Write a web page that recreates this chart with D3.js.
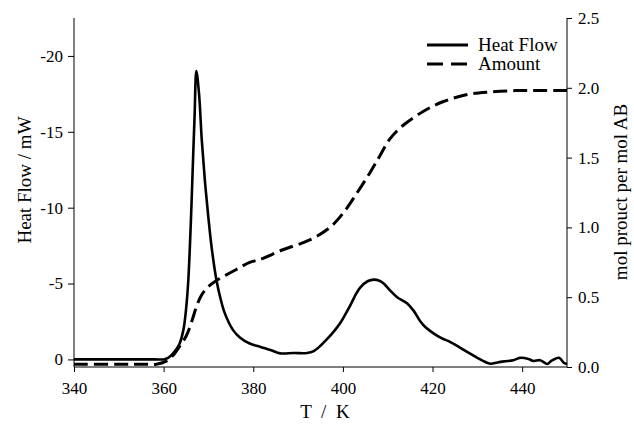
<!DOCTYPE html>
<html>
<head>
<meta charset="utf-8">
<script src="https://cdn.jsdelivr.net/npm/d3@7"></script>
<style>
  body { margin: 0; background: #fff; }
  text { font-family: "Liberation Serif", "DejaVu Serif", serif; fill: #000; }
</style>
</head>
<body>
<div id="chart"></div>
<script>
// heat flow trace (mW), temperature in K
var heatT = [340, 350, 358, 360, 361, 362.1, 363.5, 364.4, 365.0, 365.5, 366.0, 366.4, 366.9, 367.3, 367.9, 368.5, 369.2, 370.0, 370.7, 371.8, 372.7, 373.7, 375.5, 377.0, 379.2, 381.5, 384.0, 386.0, 389.0, 392.0, 393.5, 395.0, 396.5, 398.0, 399.4, 400.5, 401.7, 403.0, 403.9, 405.5, 406.9, 408.0, 409.1, 410.5, 412.1, 414.3, 415.8, 417.3, 418.5, 420.3, 422.0, 424.0, 426.0, 427.8, 430.0, 432.0, 433.0, 434.5, 436.0, 438.0, 439.5, 441.2, 442.5, 444.0, 445.6, 446.5, 448.3, 449.2, 450];
var heatV = [0, 0, 0, 0, -0.1, -0.4, -1.0, -1.93, -3.3, -5.2, -8.5, -11.8, -16, -19.0, -17.5, -14.5, -11.8, -9.3, -7.4, -5.2, -4.0, -3.0, -1.93, -1.45, -1.05, -0.83, -0.6, -0.4, -0.42, -0.42, -0.55, -0.9, -1.35, -1.85, -2.4, -2.95, -3.6, -4.35, -4.75, -5.15, -5.26, -5.2, -5.0, -4.55, -4.1, -3.7, -3.2, -2.5, -2.1, -1.7, -1.4, -1.14, -0.8, -0.48, -0.1, 0.2, 0.29, 0.2, 0.13, 0.05, -0.1, -0.05, 0.1, 0.05, 0.3, 0.1, -0.1, 0.2, 0.3];

// amount of product (mol per mol AB)
var amtT = [340, 355, 358.4, 360.5, 362, 363.6, 365.0, 365.9, 367.3, 368.2, 369.2, 370.5, 371.8, 374, 376.3, 379.2, 381.5, 386.6, 392.6, 397.1, 400, 403, 406, 408.2, 410.4, 413.4, 417.9, 422.3, 427.5, 432.7, 438.6, 444, 450];
var amtV = [0.02, 0.02, 0.02, 0.04, 0.08, 0.15, 0.22, 0.29, 0.43, 0.5, 0.55, 0.59, 0.62, 0.66, 0.70, 0.75, 0.77, 0.84, 0.91, 1.0, 1.1, 1.24, 1.39, 1.51, 1.63, 1.73, 1.83, 1.9, 1.95, 1.97, 1.98, 1.98, 1.98];

var xTicks = [340, 360, 380, 400, 420, 440];
var leftTicks = [0, -5, -10, -15, -20];
var rightTicks = [0, 0.5, 1.0, 1.5, 2.0, 2.5];
var legendNames = ["Heat Flow", "Amount"];

var width = 634, height = 427;
var pL = 74, pR = 567, pT = 18, pB = 367;

var svg = d3.select("#chart").append("svg")
  .attr("width", width)
  .attr("height", height);

var x = d3.scaleLinear().domain([340, 450]).range([pL, pR]);
var yL = d3.scaleLinear().domain([0.5, -22.5]).range([pB, pT]);
var yR = d3.scaleLinear().domain([0, 2.5]).range([pB, pT]);

var heat = heatT.map(function(t, i){ return [t, heatV[i]]; });
var amt = amtT.map(function(t, i){ return [t, amtV[i]]; });

// axes (plain hyphen for negatives, like the original)
var gx = svg.append("g").attr("transform", "translate(0," + pB + ")")
  .call(d3.axisBottom(x).tickValues(xTicks).tickSize(5).tickPadding(10).tickFormat(function(d){ return String(d); }));
var gl = svg.append("g").attr("transform", "translate(" + pL + ",0)")
  .call(d3.axisLeft(yL).tickValues(leftTicks).tickSize(6).tickPadding(5).tickFormat(function(d){ return String(d); }));
var gr = svg.append("g").attr("transform", "translate(" + pR + ",0)")
  .call(d3.axisRight(yR).tickValues(rightTicks).tickSize(5).tickPadding(6).tickFormat(function(d){ return d.toFixed(1); }));

[gx, gl, gr].forEach(function(g){
  g.attr("font-family", null).attr("font-size", null);
  g.select(".domain").attr("stroke", "#000").attr("stroke-width", 1);
  g.selectAll(".tick line").attr("stroke", "#000");
  g.selectAll("text")
    .style("font-family", "'Liberation Serif', serif")
    .style("font-size", "17px")
    .attr("fill", "#000");
});
// no outer tick stubs on domain paths
gx.select(".domain").attr("d", "M" + pL + ",0H" + pR);
gl.select(".domain").attr("d", "M0," + pT + "V" + pB);
gr.select(".domain").attr("d", "M0," + pT + "V" + pB);

// curves
var lineHeat = d3.line()
  .x(function(d){ return x(d[0]); })
  .y(function(d){ return yL(d[1]); })
  .curve(d3.curveCatmullRom.alpha(0.5));
var lineAmt = d3.line()
  .x(function(d){ return x(d[0]); })
  .y(function(d){ return yR(d[1]); })
  .curve(d3.curveCatmullRom.alpha(0.5));

svg.append("path").datum(amt)
  .attr("d", lineAmt)
  .attr("fill", "none")
  .attr("stroke", "#000")
  .attr("stroke-width", 3)
  .attr("stroke-dasharray", "14,6");

svg.append("path").datum(heat)
  .attr("d", lineHeat)
  .attr("fill", "none")
  .attr("stroke", "#000")
  .attr("stroke-width", 2.6)
  .attr("stroke-linejoin", "round");

// axis titles
svg.append("text")
  .attr("transform", "translate(31,180) rotate(-90)")
  .attr("text-anchor", "middle")
  .style("font-size", "19px")
  .text("Heat Flow / mW");

svg.append("text")
  .attr("transform", "translate(627,192) rotate(-90)")
  .attr("text-anchor", "middle")
  .style("font-size", "19px")
  .text("mol prouct per mol AB");

svg.append("text")
  .attr("x", 325)
  .attr("y", 418)
  .attr("text-anchor", "middle")
  .style("font-size", "19px")
  .style("white-space", "pre")
  .text("T  /  K");

// legend
var leg = svg.append("g").attr("transform", "translate(427,45)");
leg.selectAll("line").data(legendNames).enter().append("line")
  .attr("x1", 0).attr("x2", 41)
  .attr("y1", function(d, i){ return i * 19; })
  .attr("y2", function(d, i){ return i * 19; })
  .attr("stroke", "#000")
  .attr("stroke-width", 3)
  .attr("stroke-dasharray", function(d, i){ return i ? "16,8" : null; });
leg.selectAll("text").data(legendNames).enter().append("text")
  .attr("x", 51)
  .attr("y", function(d, i){ return i * 19 + 6; })
  .style("font-size", "19px")
  .text(function(d){ return d; });
</script>
</body>
</html>
